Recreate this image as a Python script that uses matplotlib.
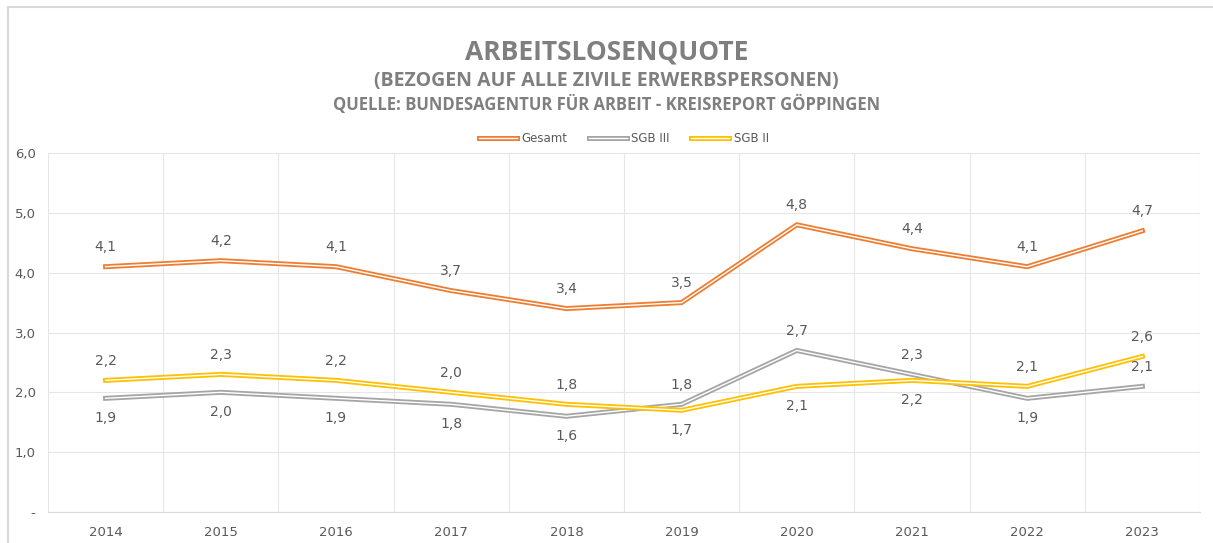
import matplotlib
matplotlib.use("Agg")
import matplotlib.pyplot as plt
import matplotlib.patheffects as pe
from matplotlib.lines import Line2D

years = ["2014", "2015", "2016", "2017", "2018", "2019", "2020", "2021", "2022", "2023"]
gesamt = [4.1, 4.2, 4.1, 3.7, 3.4, 3.5, 4.8, 4.4, 4.1, 4.7]
sgb3 = [1.9, 2.0, 1.9, 1.8, 1.6, 1.8, 2.7, 2.3, 1.9, 2.1]
sgb2 = [2.2, 2.3, 2.2, 2.0, 1.8, 1.7, 2.1, 2.2, 2.1, 2.6]
# label placement: 1 = above, -1 = below
sgb3_pos = [-1, -1, -1, -1, -1, 1, 1, 1, -1, 1]
sgb2_pos = [1, 1, 1, 1, 1, -1, -1, -1, 1, 1]
yticks = [0, 1, 2, 3, 4, 5, 6]
ytick_labels = ["-", "1,0", "2,0", "3,0", "4,0", "5,0", "6,0"]

c_ges = "#ED7D31"
c_sgb3 = "#A5A5A5"
c_sgb2 = "#FFC000"
txt = "#595959"

fig = plt.figure(figsize=(12.13, 5.43), dpi=100)
W, H = 1213, 543
ax = fig.add_axes([48 / W, 1 - 512 / H, (1200 - 48) / W, (512 - 153) / H])

x = list(range(len(years)))

def dbl(vals, col, label):
    ax.plot(x, vals, color="white", lw=1.0, label=label, zorder=3,
            solid_joinstyle="miter",
            path_effects=[pe.Stroke(linewidth=3.6, foreground=col), pe.Normal()])

dbl(gesamt, c_ges, "Gesamt")
dbl(sgb3, c_sgb3, "SGB III")
dbl(sgb2, c_sgb2, "SGB II")

fs_lab = 10
for i, v in enumerate(gesamt):
    ax.annotate(f"{v:.1f}".replace(".", ","), (i, v), xytext=(0, 9), textcoords="offset points",
                ha="center", va="bottom", fontsize=fs_lab, color=txt)
for vals, pos in ((sgb3, sgb3_pos), (sgb2, sgb2_pos)):
    for i, (v, p) in enumerate(zip(vals, pos)):
        ax.annotate(f"{v:.1f}".replace(".", ","), (i, v), xytext=(0, 9 * p), textcoords="offset points",
                    ha="center", va="bottom" if p > 0 else "top", fontsize=fs_lab, color=txt)

ax.set_xlim(-0.5, len(years) - 0.5)
ax.set_ylim(0, 6)
ax.set_yticks(yticks)
ax.set_yticklabels(ytick_labels)
ax.set_xticks(x)
ax.set_xticklabels(years)
ax.set_xticks([i - 0.5 for i in range(len(years) + 1)], minor=True)
ax.grid(True, which="minor", axis="x", color="#E6E6E6", lw=0.8)
ax.grid(True, which="major", axis="y", color="#E6E6E6", lw=0.8)
ax.set_axisbelow(True)
for s in ["top", "right", "left"]:
    ax.spines[s].set_visible(False)
ax.spines["bottom"].set_color("#D9D9D9")
ax.tick_params(axis="both", which="both", length=0, colors=txt, labelsize=9.5)
ax.tick_params(axis="x", pad=10)
ax.tick_params(axis="y", pad=9)

leg = ax.legend(loc="lower center", bbox_to_anchor=(0.5, 1.0), ncol=3, frameon=False,
                fontsize=8.5, labelcolor=txt, handlelength=3.2, columnspacing=1.8, handletextpad=0.4,
                borderaxespad=0.3)

fig.text(0.5, 1 - 52 / H, "ARBEITSLOSENQUOTE", ha="center", va="center", fontsize=19,
         fontweight="bold", color="#7F7F7F", family="Open Sans")
fig.text(0.5, 1 - 81 / H, "(BEZOGEN AUF ALLE ZIVILE ERWERBSPERSONEN)", ha="center", va="center",
         fontsize=14, fontweight="bold", color="#7F7F7F", family="Open Sans")
fig.text(0.5, 1 - 104 / H, "QUELLE: BUNDESAGENTUR FÜR ARBEIT - KREISREPORT GÖPPINGEN", ha="center",
         va="center", fontsize=12, fontweight="bold", color="#7F7F7F", family="Open Sans")

# chart frame
fig.add_artist(Line2D([8 / W, 8 / W], [0, 1 - 7 / H], transform=fig.transFigure, color="#D9D9D9", lw=1.5))
fig.add_artist(Line2D([8 / W, 1], [1 - 7 / H, 1 - 7 / H], transform=fig.transFigure, color="#D9D9D9", lw=1.5))

fig.savefig("out.png", dpi=100, facecolor="white")
